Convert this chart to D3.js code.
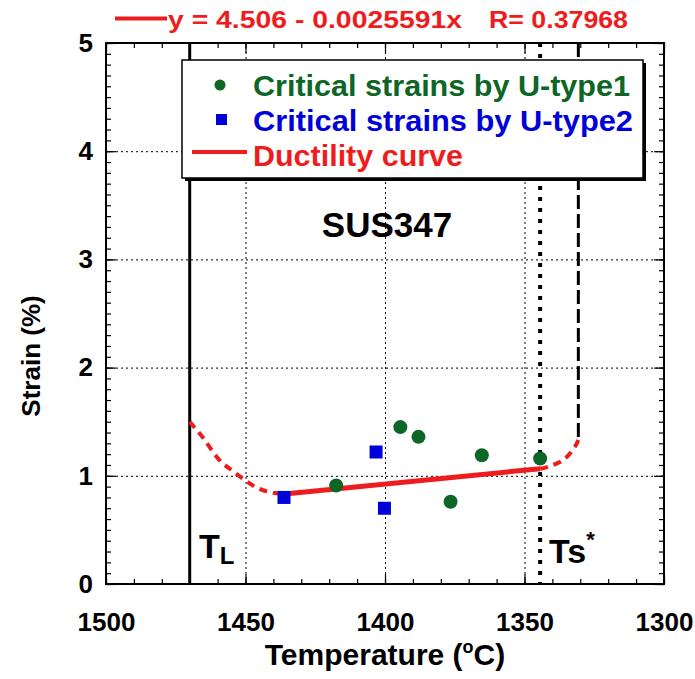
<!DOCTYPE html>
<html><head><meta charset="utf-8">
<script src="https://cdn.jsdelivr.net/npm/d3@7"></script>
<style>
body{margin:0;background:#fff;}
text{font-family:"Liberation Sans",Arial,sans-serif;font-weight:bold;}
</style></head>
<body><svg id="chart" width="695" height="679"></svg>
<script>
// ---- data ----
const xTicks = [1500, 1450, 1400, 1350, 1300];
const yTicks = [0, 1, 2, 3, 4, 5];
const type1Temp = [1417.5, 1394.5, 1388, 1365.3, 1376.5, 1344.4];
const type1Strain = [0.91, 1.45, 1.36, 1.19, 0.76, 1.16];
const type2Temp = [1436.2, 1403.2, 1400.2];
const type2Strain = [0.80, 1.22, 0.70];
const fitTemp = [1436, 1344.4];
const fitStrain = [0.831, 1.066];
const leftCurveTemp = [1470, 1465.5, 1459.5, 1454.4, 1450.2, 1445.5, 1440.6, 1436];
const leftCurveStrain = [1.50, 1.36, 1.15, 1.04, 0.96, 0.885, 0.845, 0.831];
const rightCurveTemp = [1344.4, 1341.5, 1336.1, 1331.9, 1330.7];
const rightCurveStrain = [1.066, 1.084, 1.146, 1.269, 1.33];
const TL = 1470, TS = 1344.4, TX = 1330.7;
const legendLabels = ["Critical strains by U-type1", "Critical strains by U-type2", "Ductility curve"];
const equationText = "y = 4.506 - 0.0025591x";
const rText = "R= 0.37968";

const green = "#0d6626", blue = "#0000d8", red = "#ee1c1c";
const svg = d3.select("#chart");
const x = d3.scaleLinear().domain([1500, 1300]).range([106, 664]);
const y = d3.scaleLinear().domain([0, 5]).range([584, 43]);
const [X0, X1] = x.range(), [Y0, Y1] = y.range();

// grid
const g = svg.append("g");
g.append("g").attr("transform", `translate(0,${Y0})`)
  .call(d3.axisBottom(x).tickValues([1450, 1400, 1350]).tickSize(-(Y0 - Y1)).tickFormat(""))
  .call(s => { s.select(".domain").remove(); s.selectAll("line").attr("stroke", "#000").attr("stroke-dasharray", "2,3"); });
g.append("g").attr("transform", `translate(${X0},0)`)
  .call(d3.axisLeft(y).tickValues([1, 2, 3, 4]).tickSize(-(X1 - X0)).tickFormat(""))
  .call(s => { s.select(".domain").remove(); s.selectAll("line").attr("stroke", "#000").attr("stroke-dasharray", "2,3"); });

// axes with inward ticks
function styleAx(s) { s.select(".domain").remove(); s.selectAll("line").attr("stroke", "#000").attr("stroke-width", 1.2); }
const xMinor = d3.range(1300, 1501, 10), yMinor = d3.range(0, 51).map(d => d / 10);
svg.append("g").attr("transform", `translate(0,${Y0})`).call(d3.axisBottom(x).tickValues(xMinor).tickSize(-5).tickFormat("")).call(styleAx);
svg.append("g").attr("transform", `translate(0,${Y1})`).call(d3.axisTop(x).tickValues(xMinor).tickSize(-5).tickFormat("")).call(styleAx);
svg.append("g").attr("transform", `translate(${X0},0)`).call(d3.axisLeft(y).tickValues(yMinor).tickSize(-5).tickFormat("")).call(styleAx);
svg.append("g").attr("transform", `translate(${X1},0)`).call(d3.axisRight(y).tickValues(yMinor).tickSize(-5).tickFormat("")).call(styleAx);

const xa = svg.append("g").attr("transform", `translate(0,${Y0})`)
  .call(d3.axisBottom(x).tickValues(xTicks).tickSize(-10).tickPadding(29).tickFormat(d3.format("d")));
xa.call(styleAx); xa.selectAll("text").attr("font-size", 26).attr("fill", "#000").attr("font-family", "Liberation Sans, Arial").attr("font-weight", "bold");
svg.append("g").attr("transform", `translate(0,${Y1})`).call(d3.axisTop(x).tickValues(xTicks).tickSize(-10).tickFormat("")).call(styleAx);
const ya = svg.append("g").attr("transform", `translate(${X0},0)`)
  .call(d3.axisLeft(y).tickValues(yTicks).tickSize(-10).tickPadding(13).tickFormat(d3.format("d")));
ya.call(styleAx); ya.selectAll("text").attr("font-size", 26).attr("fill", "#000").attr("font-family", "Liberation Sans, Arial").attr("font-weight", "bold");
svg.append("g").attr("transform", `translate(${X1},0)`).call(d3.axisRight(y).tickValues(yTicks).tickSize(-10).tickFormat("")).call(styleAx);

// frame
svg.append("rect").attr("x", X0).attr("y", Y1).attr("width", X1 - X0).attr("height", Y0 - Y1)
  .attr("fill", "none").attr("stroke", "#000").attr("stroke-width", 2);

// vertical reference lines
svg.append("line").attr("x1", x(TL)).attr("x2", x(TL)).attr("y1", Y1).attr("y2", Y0).attr("stroke", "#000").attr("stroke-width", 3);
svg.append("line").attr("x1", x(TS)).attr("x2", x(TS)).attr("y1", Y1).attr("y2", Y0).attr("stroke", "#000").attr("stroke-width", 4).attr("stroke-dasharray", "4,7");
svg.append("line").attr("x1", x(TX)).attr("x2", x(TX)).attr("y1", Y1).attr("y2", y(rightCurveStrain[rightCurveStrain.length - 1])).attr("stroke", "#000").attr("stroke-width", 3).attr("stroke-dasharray", "14,5");

// curves
const line = d3.line().x(d => x(d[0])).y(d => y(d[1])).curve(d3.curveMonotoneX);
svg.append("path").datum(d3.zip(leftCurveTemp, leftCurveStrain)).attr("d", line)
  .attr("fill", "none").attr("stroke", red).attr("stroke-width", 4).attr("stroke-dasharray", "8,6");
svg.append("path").datum(d3.zip(rightCurveTemp, rightCurveStrain)).attr("d", d3.line().x(d => x(d[0])).y(d => y(d[1])).curve(d3.curveCatmullRom))
  .attr("fill", "none").attr("stroke", red).attr("stroke-width", 4).attr("stroke-dasharray", "8,6");
svg.append("path").datum(d3.zip(fitTemp, fitStrain)).attr("d", d3.line().x(d => x(d[0])).y(d => y(d[1])))
  .attr("fill", "none").attr("stroke", red).attr("stroke-width", 5);

// points
svg.append("g").selectAll("circle").data(d3.zip(type1Temp, type1Strain)).join("circle")
  .attr("cx", d => x(d[0])).attr("cy", d => y(d[1])).attr("r", 7).attr("fill", green);
svg.append("g").selectAll("rect").data(d3.zip(type2Temp, type2Strain)).join("rect")
  .attr("x", d => x(d[0]) - 6.5).attr("y", d => y(d[1]) - 6.5).attr("width", 13).attr("height", 13).attr("fill", blue);

// legend
const lg = svg.append("g");
lg.append("rect").attr("x", 185).attr("y", 63).attr("width", 461).attr("height", 118).attr("fill", "#000");
lg.append("rect").attr("x", 182).attr("y", 60).attr("width", 461).attr("height", 118).attr("fill", "#fff").attr("stroke", "#000").attr("stroke-width", 1.5);
lg.append("circle").attr("cx", 220).attr("cy", 85).attr("r", 5.5).attr("fill", green);
lg.append("rect").attr("x", 216).attr("y", 114).attr("width", 11).attr("height", 11).attr("fill", blue);
lg.append("line").attr("x1", 192).attr("x2", 247).attr("y1", 152).attr("y2", 152).attr("stroke", red).attr("stroke-width", 4);
const lgColors = [green, blue, red];
const lgWidths = [377, 380, 210];
lg.selectAll("text.lt").data(legendLabels).join("text").attr("class", "lt")
  .attr("x", 253).attr("y", (d, i) => 96 + i * 35).attr("font-size", 29)
  .attr("textLength", (d, i) => lgWidths[i]).attr("lengthAdjust", "spacingAndGlyphs")
  .attr("fill", (d, i) => lgColors[i]).text(d => d);

// equation
svg.append("line").attr("x1", 115).attr("x2", 167).attr("y1", 18.5).attr("y2", 18.5).attr("stroke", red).attr("stroke-width", 4);
svg.append("text").attr("x", 168).attr("y", 28).attr("font-size", 23).attr("fill", red)
  .attr("textLength", 294).attr("lengthAdjust", "spacingAndGlyphs").text(equationText);
svg.append("text").attr("x", 489).attr("y", 28).attr("font-size", 23).attr("fill", red)
  .attr("textLength", 139).attr("lengthAdjust", "spacingAndGlyphs").text(rText);

// labels
svg.append("text").attr("x", 387).attr("y", 237).attr("text-anchor", "middle").attr("font-size", 35).attr("fill", "#000").text("SUS347");
const tl = svg.append("text").attr("x", 199).attr("y", 558).attr("font-size", 34).attr("fill", "#000");
tl.append("tspan").text("T");
tl.append("tspan").attr("font-size", 24).attr("dy", 6).text("L");
const ts = svg.append("text").attr("x", 549).attr("y", 563).attr("font-size", 34).attr("fill", "#000");
ts.append("tspan").text("Ts");
ts.append("tspan").attr("font-size", 22).attr("dy", -16).text("*");

const xt = svg.append("text").attr("x", 385).attr("y", 665).attr("text-anchor", "middle").attr("font-size", 30).attr("fill", "#000");
xt.append("tspan").text("Temperature (");
xt.append("tspan").attr("font-size", 18).attr("dy", -12).text("o");
xt.append("tspan").attr("dy", 12).text("C)");
svg.append("text").attr("transform", "translate(40,356) rotate(-90)").attr("text-anchor", "middle").attr("font-size", 26).attr("fill", "#000").text("Strain (%)");
</script></body></html>
